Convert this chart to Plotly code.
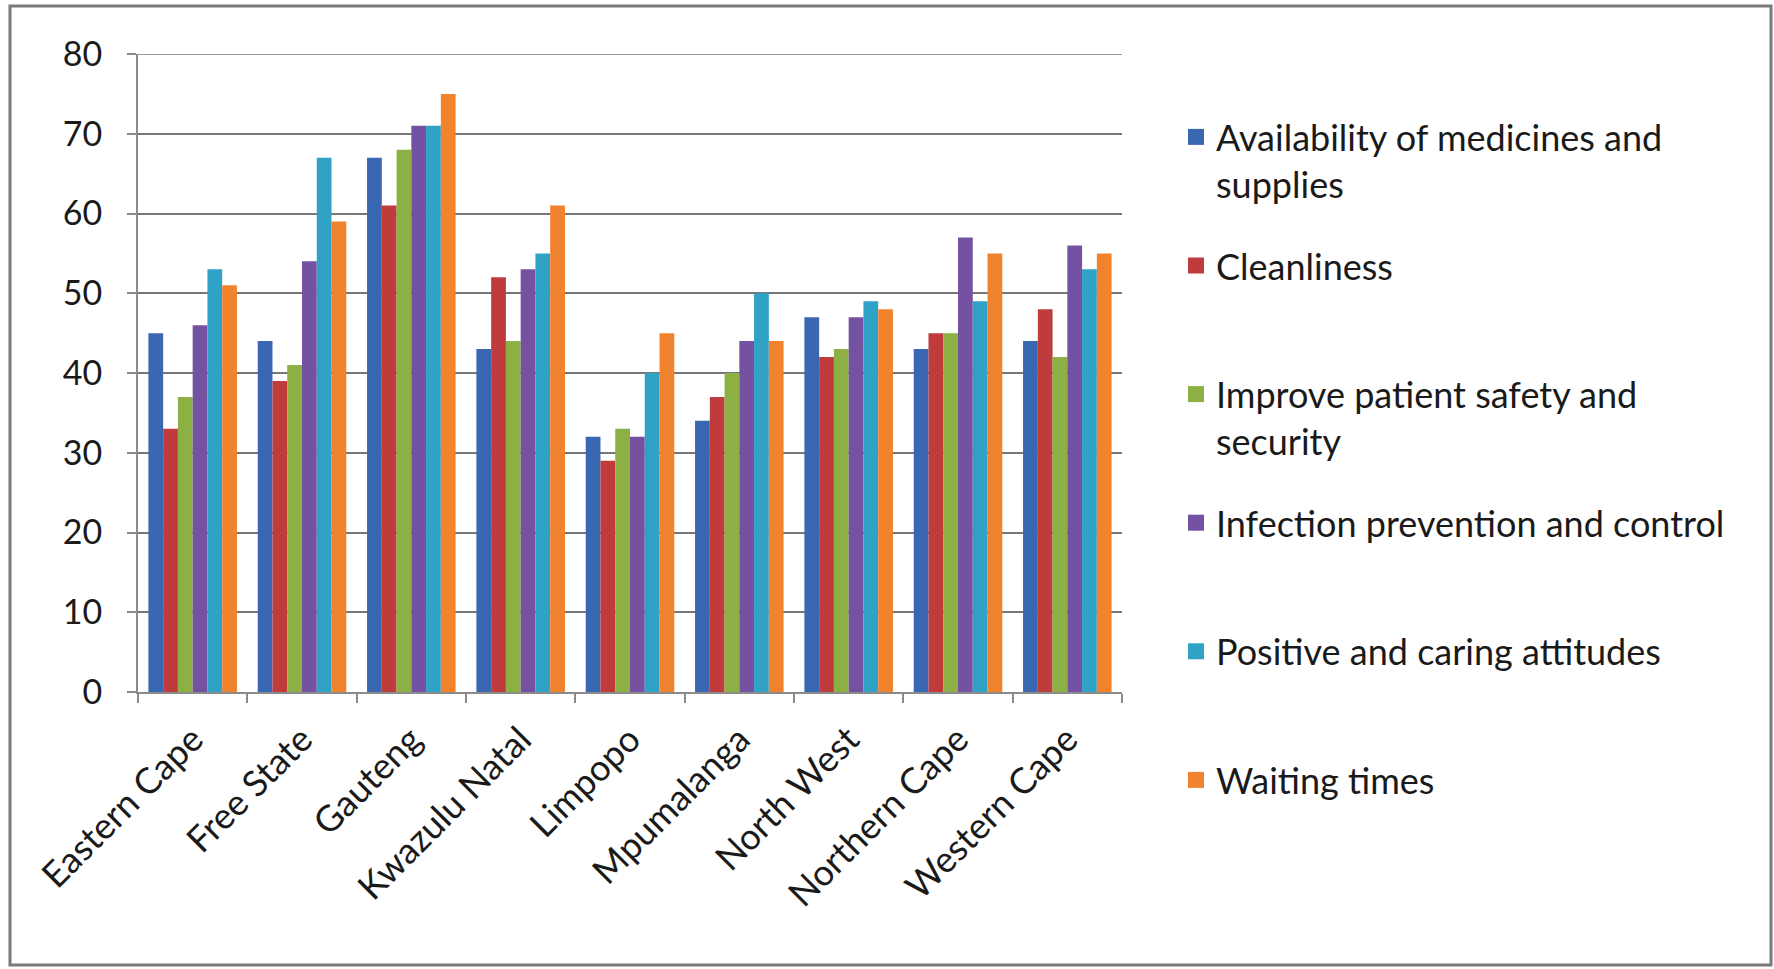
import plotly.graph_objects as go

# Provinces on the category axis
provinces = ["Eastern Cape", "Free State", "Gauteng", "Kwazulu Natal", "Limpopo",
             "Mpumalanga", "North West", "Northern Cape", "Western Cape"]

# Percentage per priority area, one list per series
availability = [45, 44, 67, 43, 32, 34, 47, 43, 44]
cleanliness = [33, 39, 61, 52, 29, 37, 42, 45, 48]
safety = [37, 41, 68, 44, 33, 40, 43, 45, 42]
infection = [46, 54, 71, 53, 32, 44, 47, 57, 56]
attitudes = [53, 67, 71, 55, 40, 50, 49, 49, 53]
waiting = [51, 59, 75, 61, 45, 44, 48, 55, 55]

series_names = [
    "Availability of medicines and<br>supplies",
    "Cleanliness<br> ",
    "Improve patient safety and<br>security",
    "Infection prevention and control<br> ",
    "Positive and caring attitudes<br> ",
    "Waiting times<br> ",
]
series_values = [availability, cleanliness, safety, infection, attitudes, waiting]
series_colors = ["#3A67B1", "#BF3B3C", "#8CB043", "#7452A1", "#2FA2C6", "#F2832E"]

y_ticks = [0, 10, 20, 30, 40, 50, 60, 70, 80]

FONT = "Lato"

fig = go.Figure()
for i, (name, vals, col) in enumerate(zip(series_names, series_values, series_colors)):
    fig.add_trace(go.Bar(
        x=provinces, y=vals, name=name, legendgroup=f"g{i}", showlegend=False,
        marker=dict(color=col, line=dict(width=0)),
    ))
    # legend key: a larger square swatch in the series colour
    fig.add_trace(go.Scatter(
        x=[None], y=[None], mode="markers", name=name, legendgroup=f"g{i}",
        marker=dict(symbol="square", size=17, color=col),
    ))

# Plot area in pixels
L, R, T, B = 138, 1122, 54, 692
W, H = 1774, 969
pw, ph = R - L, B - T

def px_x(v):
    return (v - L) / pw

def px_y(v):
    return (B - v) / ph

fig.update_layout(
    width=W, height=H,
    margin=dict(l=L, r=W - R, t=T, b=H - B, pad=0),
    paper_bgcolor="white",
    plot_bgcolor="white",
    barmode="group",
    bargap=0.19,
    bargroupgap=0,
    font=dict(family=FONT, color="#1a1a1a"),
    showlegend=True,
    legend=dict(
        x=px_x(1176), y=px_y(107), xanchor="left", yanchor="top",
        font=dict(family=FONT, size=36, color="#1a1a1a"),
        valign="top",
        tracegroupgap=32,
        itemsizing="trace",
        maxheight=900,
        bgcolor="rgba(0,0,0,0)",
        traceorder="grouped",
    ),
    shapes=[
        dict(type="rect", xref="paper", yref="paper",
             x0=px_x(10), x1=px_x(1771), y0=px_y(965), y1=px_y(6),
             line=dict(color="#7a7a7a", width=3), layer="below"),
        # gridline along the top of the value range
        dict(type="line", xref="paper", yref="y",
             x0=0, x1=1, y0=80, y1=80,
             line=dict(color="#777777", width=1.5), layer="below"),
    ],
)

fig.update_xaxes(
    tickangle=-45,
    tickfont=dict(family=FONT, size=36, color="#1a1a1a"),
    ticklabelstandoff=10,
    showline=True, linecolor="#8a8a8a", linewidth=2,
    ticks="outside", tickson="boundaries", ticklen=9, tickcolor="#8a8a8a", tickwidth=2,
    showgrid=False,
)
fig.update_yaxes(
    range=[0, 80],
    tickvals=y_ticks,
    tickfont=dict(family=FONT, size=34, color="#1a1a1a"),
    ticklabelstandoff=18,
    showline=True, linecolor="#8a8a8a", linewidth=2,
    ticks="outside", ticklen=9, tickcolor="#8a8a8a", tickwidth=2,
    showgrid=True, gridcolor="#777777", gridwidth=1.5,
    zeroline=False,
)

fig.write_html("out.html")
